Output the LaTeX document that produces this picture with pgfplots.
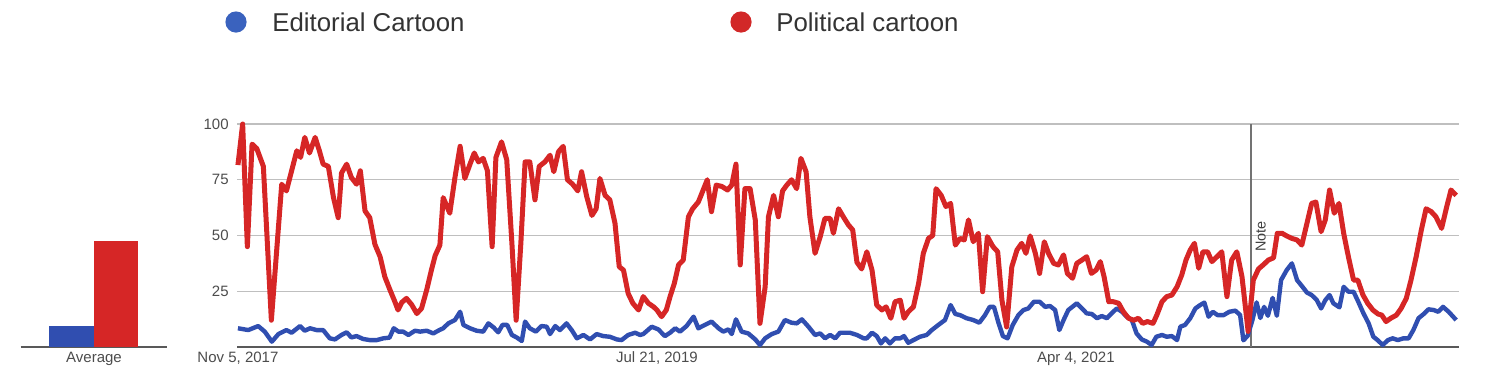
\documentclass[border=0pt]{standalone}
\usepackage{fontspec}
\setmainfont{Liberation Sans}
\usepackage{pgfplots}
\pgfplotsset{compat=1.18}
\definecolor{tblue}{RGB}{48,78,176}
\definecolor{tred}{RGB}{214,38,38}
\definecolor{lblue}{RGB}{58,98,190}
\definecolor{lred}{RGB}{210,40,40}
\begin{document}
\begin{tikzpicture}[x=0.5pt,y=0.5pt]
\useasboundingbox (0,0) rectangle (1490,377);
% legend
\fill[lblue] (236,355) circle[radius=5.3pt];
\node[anchor=west,inner sep=0pt,text=black!80,font=\fontsize{12.9}{15}\selectfont] at (272,355) {Editorial Cartoon};
\fill[lred] (741,355) circle[radius=5.3pt];
\node[anchor=west,inner sep=0pt,text=black!80,font=\fontsize{12.9}{15}\selectfont] at (776,355) {Political cartoon};
% average panel
\begin{axis}[at={(10.35pt,15pt)},anchor=south west,scale only axis,
  width=73pt,height=111.5pt,xmin=20.7,xmax=166.7,ymin=0,ymax=100,
  axis line style={draw=none},major tick length=0pt,
  ytick={0},yticklabels={},ymajorgrids,grid style={draw=black!65,line width=0.7pt},
  xtick={94},xticklabels={Average},
  xticklabel style={anchor=base,inner sep=0pt,yshift=-7.9pt,font=\fontsize{7.5}{9}\selectfont,text=black!70},
  clip=false]
\addplot[ybar,bar width=22.5pt,bar shift=0pt,fill=tblue,draw=none] coordinates {(71.5,9.3)};
\addplot[ybar,bar width=22pt,bar shift=0pt,fill=tred,draw=none] coordinates {(116,47.5)};
\end{axis}
% main chart
\begin{axis}[at={(118.5pt,15pt)},anchor=south west,scale only axis,
  width=611pt,height=111.5pt,xmin=-0.2,xmax=259.4,ymin=0,ymax=100,
  axis line style={draw=none},major tick length=0pt,
  /pgf/number format/assume math mode=true,
  ytick={25,50,75,100},ymajorgrids,grid style={draw=black!25,line width=0.6pt},
  extra y ticks={0},extra y tick labels={},
  extra y tick style={grid style={draw=black!65,line width=0.7pt}},
  xtick={0,89,178},xticklabels={{Nov 5, 2017},{Jul 21, 2019},{Apr 4, 2021}},
  xticklabel style={anchor=base,inner sep=0pt,yshift=-7.9pt,font=\fontsize{7.5}{9}\selectfont,text=black!70},
  yticklabel style={anchor=east,inner sep=0pt,xshift=-4pt,font=\fontsize{7.5}{9}\selectfont,text=black!70},
  clip=false]
\draw[black!55,line width=0.6pt] (axis cs:215.2,0) -- (axis cs:215.2,100);
\node[rotate=90,inner sep=0pt,text=black!75,font=\fontsize{7.2}{9}\selectfont] at (axis cs:217.3,49.5) {Note};
\addplot[tblue,line width=2.2pt,line join=round,mark=none] coordinates {
(0,8.4) (2.2,7.6) (4.3,9.4) (5.7,6.9) (7.2,2.4) (8.6,5.8) (10.3,7.6) (11.4,6.4) (13.2,9.4) (14.2,7.3) (15.3,8.4) (16.7,7.6) (18.1,7.6) (19.5,3.9) (20.6,3.4) (22,5.4) (23.1,6.6) (24.1,4.3) (25.2,4.9) (26.6,3.6) (28,3.1) (29.5,3.1) (30.9,3.9) (32.2,4.2) (33.1,8.4) (34.1,6.9) (35.1,6.9) (36.2,5.4) (37.6,7.3) (38.7,6.9) (40.1,7.3) (41.5,6.1) (42.8,7.6) (43.6,8.4) (44.7,10.6) (46.1,12.1) (47.2,15.8) (47.9,9.9) (49.3,8.4) (50.7,7.3) (52.1,6.9) (53.2,10.6) (54.3,8.8) (55.3,6.6) (56.2,9.9) (57.2,9.9) (58.2,5.4) (59.2,4.3) (60.3,2.7) (61,11.4) (62,8.4) (63.3,6.9) (64.5,9.4) (65.6,9.1) (66.3,5.8) (67.4,9.4) (68.4,7.6) (69.8,10.6) (70.9,7.6) (72,3.9) (73.4,5.4) (74.8,3.4) (76.2,5.8) (77.6,4.9) (79,4.6) (80.5,3.4) (81.5,3.1) (82.9,5.4) (84.4,6.4) (85.4,5.4) (86.1,5.8) (87.9,9.1) (89.3,7.9) (90.7,4.9) (91.8,6.4) (92.9,8.4) (93.9,6.9) (95.3,9.4) (96.8,13.6) (97.8,8.4) (99.2,9.9) (100.6,11.4) (102.1,8.4) (103.1,6.9) (104.2,7.9) (104.9,5.8) (105.8,12.4) (107,6.9) (108.4,6.1) (109.9,3.4) (110.9,0.9) (112,3.9) (113.4,5.8) (114.8,6.9) (116.2,12.1) (117.6,10.9) (118.7,10.6) (119.8,12.4) (121.2,9.1) (122.6,5.4) (123.7,6.1) (124.7,3.9) (125.8,5.4) (126.9,3.9) (127.9,6.4) (130,6.4) (131.5,5.4) (132.9,3.9) (133.6,3.9) (134.7,6.4) (135.7,4.9) (136.6,1.6) (137.5,3.9) (138.5,1.6) (139.6,3.9) (140.7,3.9) (141.5,4.9) (142.4,1.9) (143.5,3.1) (144.9,4.6) (146.3,5.4) (147.4,7.6) (148.8,9.9) (150.2,12.1) (151.4,18.8) (152.4,14.8) (153.4,14.3) (154.8,12.9) (156.2,12.1) (157.5,10.9) (158.7,14.3) (159.7,18) (160.6,18) (161.6,10.6) (162.5,4.9) (163.5,3.9) (164.6,9.9) (165.8,14.3) (166.9,16.6) (167.9,17.3) (169.1,20.3) (170.3,20.3) (171.5,18) (172.5,18.4) (173.6,16.6) (174.5,7.6) (175.4,12.1) (176.4,16.6) (177.5,18.4) (178.2,19.6) (179.3,17.3) (180.3,15.1) (181.4,14.8) (182.5,12.9) (183.5,13.9) (184.6,12.9) (185.6,15.1) (186.7,17.3) (187.8,15.8) (188.8,13.6) (189.9,12.1) (190.9,6.1) (192,3.4) (193.1,2.4) (194.1,0.9) (195.1,4.6) (196.3,5.4) (197.3,4.6) (198.4,4.9) (199.5,3.1) (200.2,9.1) (201.2,9.9) (202.3,12.9) (203.4,17.3) (204.4,18.8) (205.3,19.9) (206.2,13.6) (207.1,15.8) (208.1,14.3) (209.4,14.3) (210.6,15.8) (211.9,16.3) (212.9,14.3) (213.6,3) (214.5,5) (215.5,12) (216.4,20) (217.2,13) (218,18) (218.8,14) (219.8,22) (220.7,14) (221.6,30) (222.8,34.5) (223.9,37.5) (225,30) (226,27.4) (227.1,24.4) (228.1,23.3) (229.2,21) (230.1,17.3) (231,21) (231.9,23.3) (232.7,19.6) (234,17.8) (234.9,27) (235.9,24.8) (237,24.8) (238,20.3) (239.1,15.1) (240.2,10.6) (241.2,4.6) (242.1,3.1) (243.2,0.9) (244.3,3.1) (245.3,3.9) (246.4,3.1) (247.6,3.9) (248.7,3.9) (249.7,7.6) (250.8,12.9) (251.9,14.8) (252.9,16.9) (254,16.6) (255,15.8) (256,18) (257.2,15.8) (258.8,12.1)
};
\addplot[tred,line width=2.5pt,line join=round,mark=none] coordinates {
(0,81.6) (1,100) (2,45) (3,91) (4,89) (5.4,81) (7.1,12) (9.3,73) (10.3,70) (11.4,79) (12.5,88) (13.3,85) (14.2,94) (15.2,87) (16.4,94) (17.3,88) (18.1,82) (19.2,81) (20.3,67) (21.3,58) (22,78) (23.1,82) (24.1,76) (25.2,73) (26,79) (27,61) (28,58) (29.1,46) (30.2,40.5) (31.2,31.5) (32.3,25.6) (33.4,20) (34,16.6) (34.8,20) (35.8,21.8) (36.9,19) (38,15) (39,17.3) (40.1,25.6) (41.1,34.5) (41.9,41) (42.9,45.7) (43.6,67) (45,60) (46.1,76) (47.2,90) (48.2,75.6) (49.3,82) (50.2,87) (51.1,83) (52.1,84.6) (53,79) (54,45) (54.8,85) (56,92) (57.1,84) (58.2,46.5) (59.1,12) (60.1,46.5) (61,83) (62,83) (63.1,66) (64,81) (65.2,83) (66.3,86) (67.1,78.6) (68.1,87.6) (69.1,90) (70,75) (71.1,73) (72.2,70) (73,78.6) (74.1,67.4) (75.2,59) (76.1,62) (76.9,75.6) (78,68) (79,66) (80.1,55.5) (81,36) (81.9,34.5) (82.9,24) (83.9,19.6) (85.1,16.6) (86.1,22.6) (87.2,19.6) (88.3,18) (89,16.6) (90,13.6) (91,16.6) (91.8,22.6) (92.7,28.5) (93.6,36.8) (94.6,39) (95.7,58.4) (96.6,62) (97.8,65) (98.7,69.7) (99.7,75) (100.6,60.7) (101.6,72.6) (102.8,72) (104,70.4) (104.9,72.6) (105.8,82) (106.7,36.8) (107.7,71) (108.8,71) (109.9,57) (110.9,10.6) (112,27) (112.7,58.4) (113.8,68) (114.8,58.4) (115.7,70) (116.6,72.6) (117.6,75) (118.7,71) (119.6,84.6) (120.7,78.6) (121.5,58.4) (122.6,42) (123.7,49.5) (124.7,57.7) (125.8,57.7) (126.5,51) (127.6,62) (128.6,58.4) (129.7,54.7) (130.6,52.5) (131.5,38) (132.5,35) (133.6,42.7) (134.7,34.5) (135.7,18.8) (136.8,16.6) (137.7,18) (138.7,12.9) (139.6,20.3) (140.7,21) (141.5,12.9) (142.4,15.8) (143.5,18) (144.6,28.5) (145.6,42) (146.7,48.7) (147.6,50) (148.3,71) (149.4,68) (150.4,63) (151.4,64.4) (152.4,45.7) (153.4,48.7) (154.3,48) (155.2,57) (156.2,47.2) (157.3,51) (158.2,24.8) (159.2,49.5) (160.4,45) (161.4,42.7) (162.3,21) (163.3,9) (164.4,36) (165.5,43.5) (166.5,46.5) (167.4,42) (168.3,49.8) (169.4,42) (170.3,33) (171.3,47.2) (172.2,42) (173.3,37.5) (174.3,36.8) (175.4,41.3) (176.2,33) (177.3,30.8) (178.2,37.5) (179.3,39) (180.3,40.5) (181.3,33) (182.3,34.5) (183.2,38.3) (184,31.5) (185,20.3) (186,20.3) (187.1,19.6) (188.1,15.8) (189.2,12.9) (190.3,12) (191.3,12.9) (192.2,10.6) (193.2,11.4) (194.4,10.6) (195.2,14.3) (196.3,20.3) (197.3,22.6) (198.4,23.3) (199.5,27) (200.5,32.3) (201.4,39) (202.3,43.5) (203.2,46.5) (204.1,35.3) (205,42.7) (206,42.7) (206.9,38.3) (208,40.5) (209,42.7) (210.1,22.6) (211.1,39) (212.2,42.7) (213.3,31.5) (214.6,7) (215.7,30) (216.8,35) (217.9,37) (218.9,39) (220,40) (220.8,51) (221.8,51) (222.8,49.8) (223.9,48.7) (225,48) (226,45.7) (227.1,55.5) (228.1,64.4) (229,65) (230.1,51.7) (231,57) (231.9,70.4) (232.9,60) (233.9,64.4) (234.9,51) (235.9,40.5) (237,30) (237.9,30) (239,23.3) (240,19.6) (241.1,16.6) (242.2,14.8) (243,14.3) (243.9,11.4) (244.9,12.9) (246.1,14.3) (247.1,17.3) (248.2,21.8) (249.2,30) (250.3,40.5) (251.4,52.5) (252.4,62) (253.5,60.7) (254.5,58.4) (255.7,53.2) (256.8,63) (257.7,70.4) (258.8,68)
};
\end{axis}
\end{tikzpicture}
\end{document}
